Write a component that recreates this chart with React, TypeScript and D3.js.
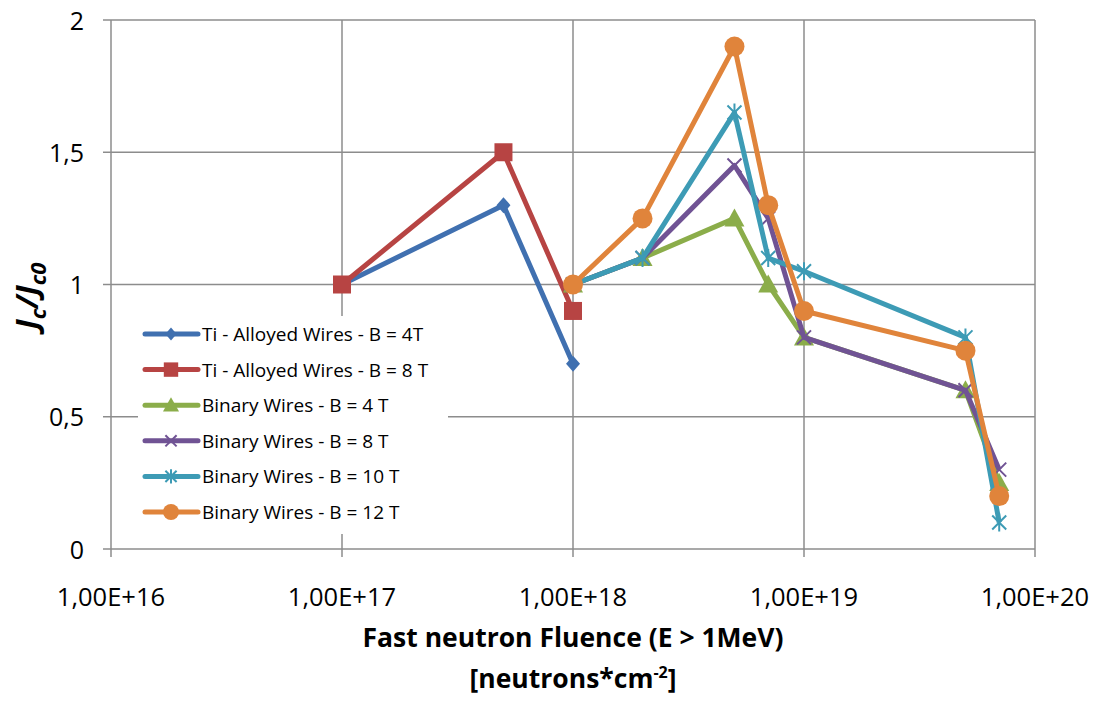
import React from "react";
import * as d3 from "d3";

// Fluence values (neutrons/cm^2) and normalised critical current Jc/Jc0
const tiFluence = [1e17, 5e17, 1e18];
const ti4T = [1.0, 1.3, 0.7];
const ti8T = [1.0, 1.5, 0.9];

const binFluence = [1e18, 2e18, 5e18, 7e18, 1e19, 5e19, 7e19];
const bin4T = [1.0, 1.1, 1.25, 1.0, 0.8, 0.6, 0.25];
const bin8T = [1.0, 1.1, 1.45, 1.25, 0.8, 0.6, 0.3];
const bin10T = [1.0, 1.1, 1.65, 1.1, 1.05, 0.8, 0.1];
const bin12T = [1.0, 1.25, 1.9, 1.3, 0.9, 0.75, 0.2];

const xTicks = [1e16, 1e17, 1e18, 1e19, 1e20];
const xTickLabels = ["1,00E+16", "1,00E+17", "1,00E+18", "1,00E+19", "1,00E+20"];
const yTicks = [0, 0.5, 1, 1.5, 2];
const yTickLabels = ["0", "0,5", "1", "1,5", "2"];

type Marker = "diamond" | "square" | "triangle" | "x" | "star" | "circle";

const series: { name: string; xs: number[]; ys: number[]; color: string; marker: Marker }[] = [
  { name: "Ti - Alloyed Wires - B = 4T", xs: tiFluence, ys: ti4T, color: "#4070B0", marker: "diamond" },
  { name: "Ti - Alloyed Wires - B = 8 T", xs: tiFluence, ys: ti8T, color: "#B74443", marker: "square" },
  { name: "Binary Wires - B = 4 T", xs: binFluence, ys: bin4T, color: "#8BAD4A", marker: "triangle" },
  { name: "Binary Wires - B = 8 T", xs: binFluence, ys: bin8T, color: "#705394", marker: "x" },
  { name: "Binary Wires - B = 10 T", xs: binFluence, ys: bin10T, color: "#3D9BB5", marker: "star" },
  { name: "Binary Wires - B = 12 T", xs: binFluence, ys: bin12T, color: "#E0843B", marker: "circle" },
];

const FONT = "'Open Sans', 'Liberation Sans', sans-serif";

function MarkerShape({ type, x, y, color, s = 1 }: { type: Marker; x: number; y: number; color: string; s?: number }) {
  switch (type) {
    case "diamond":
      return <path d={`M${x},${y - 8 * s}L${x + 7 * s},${y}L${x},${y + 8 * s}L${x - 7 * s},${y}Z`} fill={color} />;
    case "square":
      return <rect x={x - 9 * s} y={y - 9 * s} width={18 * s} height={18 * s} fill={color} />;
    case "triangle":
      return <path d={`M${x},${y - 10 * s}L${x + 10 * s},${y + 8 * s}L${x - 10 * s},${y + 8 * s}Z`} fill={color} />;
    case "x":
      return (
        <path
          d={`M${x - 7 * s},${y - 7 * s}L${x + 7 * s},${y + 7 * s}M${x - 7 * s},${y + 7 * s}L${x + 7 * s},${y - 7 * s}`}
          stroke={color}
          strokeWidth={2}
        />
      );
    case "star":
      return (
        <path
          d={`M${x - 7 * s},${y - 7 * s}L${x + 7 * s},${y + 7 * s}M${x - 7 * s},${y + 7 * s}L${x + 7 * s},${y - 7 * s}M${x},${y - 9 * s}L${x},${y + 9 * s}`}
          stroke={color}
          strokeWidth={2}
        />
      );
    case "circle":
      return <circle cx={x} cy={y} r={10 * s} fill={color} />;
  }
}

export default function App() {
  const width = 1099;
  const height = 701;
  const left = 111;
  const right = 1035;
  const top = 20;
  const bottom = 549;

  const x = d3.scaleLog().domain([1e16, 1e20]).range([left, right]);
  const y = d3.scaleLinear().domain([0, 2]).range([bottom, top]);
  const line = d3
    .line<[number, number]>()
    .x((d) => x(d[0]))
    .y((d) => y(d[1]));

  const gridColor = "#8C8C8C";
  const legendX = 145;
  const legendY0 = 334;
  const legendStep = 35.6;

  return (
    <svg width={width} height={height} style={{ position: "absolute", left: 0, top: 0, background: "#fff" }}>
      <rect width={width} height={height} fill="#fff" />
      {/* gridlines */}
      {yTicks.map((t) => (
        <line key={"hy" + t} x1={left} x2={right} y1={y(t)} y2={y(t)} stroke={gridColor} strokeWidth={1.5} />
      ))}
      {xTicks.map((t) => (
        <line key={"vx" + t} x1={x(t)} x2={x(t)} y1={top} y2={bottom} stroke={gridColor} strokeWidth={1.5} />
      ))}
      {/* axis ticks */}
      {yTicks.map((t) => (
        <line key={"ty" + t} x1={left - 8} x2={left} y1={y(t)} y2={y(t)} stroke={gridColor} strokeWidth={1.5} />
      ))}
      {xTicks.map((t) => (
        <line key={"tx" + t} x1={x(t)} x2={x(t)} y1={bottom} y2={bottom + 8} stroke={gridColor} strokeWidth={1.5} />
      ))}
      {/* tick labels */}
      {yTicks.map((t, i) => (
        <text key={"ly" + t} x={84} y={y(t) + 9.5} textAnchor="end" fontFamily={FONT} fontSize={25} fill="#000">
          {yTickLabels[i]}
        </text>
      ))}
      {xTicks.map((t, i) => (
        <text key={"lx" + t} x={x(t)} y={606} textAnchor="middle" fontFamily={FONT} fontSize={25.5} fill="#000">
          {xTickLabels[i]}
        </text>
      ))}
      {/* axis titles */}
      <text x={573} y={647} textAnchor="middle" fontFamily={FONT} fontSize={26.5} fontWeight="bold" fill="#000">
        Fast neutron Fluence (E &gt; 1MeV)
      </text>
      <text x={573} y={688} textAnchor="middle" fontFamily={FONT} fontSize={26.5} fontWeight="bold" fill="#000">
        [neutrons*cm
        <tspan dy={-10} fontSize={16}>-2</tspan>
        <tspan dy={10}>]</tspan>
      </text>
      <text
        transform="translate(38,296) rotate(-90)"
        textAnchor="middle"
        fontFamily={FONT}
        fontSize={31}
        fontWeight="bold"
        fontStyle="italic"
        fill="#000"
      >
        J<tspan dy={8} fontSize={22}>c</tspan>
        <tspan dy={-8}>/J</tspan>
        <tspan dy={8} fontSize={22}>c0</tspan>
      </text>
      {/* series */}
      {series.map((s) => {
        const pts: [number, number][] = s.xs.map((v, i) => [v, s.ys[i]]);
        return (
          <g key={s.name}>
            <path d={line(pts) || ""} fill="none" stroke={s.color} strokeWidth={5} strokeLinejoin="round" />
            {pts.map((p, i) => (
              <MarkerShape key={i} type={s.marker} x={x(p[0])} y={y(p[1])} color={s.color} />
            ))}
          </g>
        );
      })}
      {/* legend */}
      <rect x={138} y={316} width={310} height={218} fill="#fff" />
      {series.map((s, i) => {
        const ly = legendY0 + i * legendStep;
        return (
          <g key={"lg" + s.name}>
            <line x1={legendX} x2={198} y1={ly} y2={ly} stroke={s.color} strokeWidth={5} strokeLinecap="round" />
            <MarkerShape type={s.marker} x={171} y={ly} color={s.color} s={0.8} />
            <text x={202} y={ly + 7} fontFamily={FONT} fontSize={19} fill="#000">
              {s.name}
            </text>
          </g>
        );
      })}
    </svg>
  );
}
